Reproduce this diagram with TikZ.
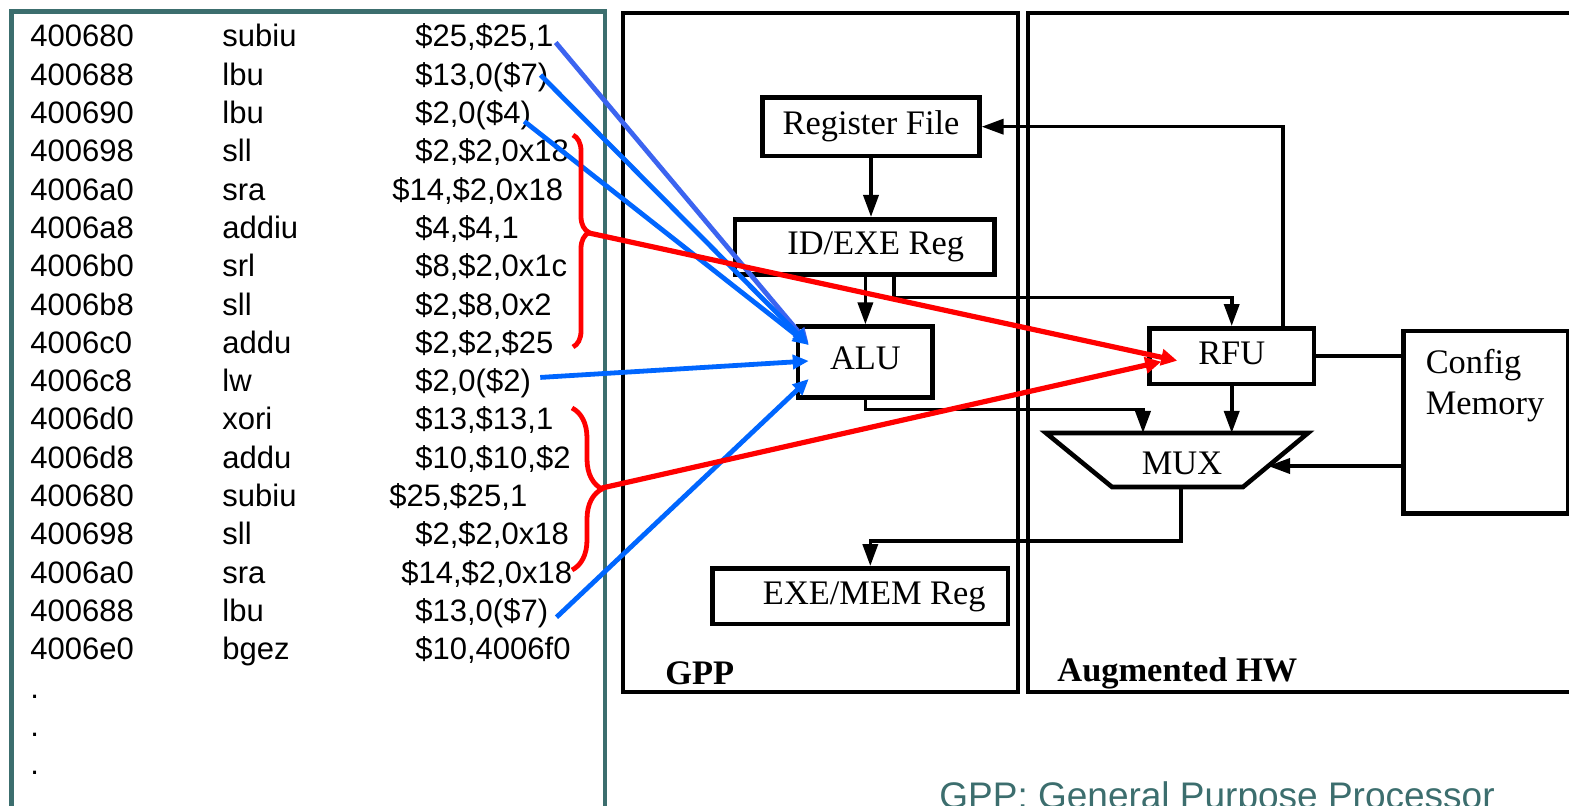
\documentclass[tikz,border=0pt]{standalone}
\usepackage{fontspec}
\setmainfont{Liberation Serif}
\newfontfamily\listfont{Liberation Sans}
\usetikzlibrary{arrows.meta,calc,positioning,decorations.pathreplacing}
\definecolor{listteal}{RGB}{60,110,110}
\definecolor{hopblue}{RGB}{0,102,255}
\definecolor{hopblueA}{RGB}{60,100,240}

\begin{document}
\begin{tikzpicture}[x=0.5pt, y=-0.5pt,
  lst/.style={font=\listfont\fontsize{15.5}{18}\selectfont, inner sep=0pt, anchor=base west},
  blk/.style={draw, line width=2.3pt, inner sep=0pt, font=\fontsize{17.2}{20.5}\selectfont,
              text height=11.7pt, text depth=3.8pt},
  lbl/.style={font=\fontsize{17.2}{20.5}\selectfont, inner sep=0pt},
  conn/.style={line width=1.8pt, -{Triangle[length=11pt,width=7.5pt]}},
  hop/.style={hopblue, line width=2.4pt, -{Triangle[length=8pt,width=7pt]}},
  fold/.style={red, line width=2.6pt, -{Triangle[length=8pt,width=8pt]}},
  brc/.style={red, line width=2.4pt, decorate}]
  \useasboundingbox (0,0) rectangle (1569,806);

  % instruction trace
  \draw[listteal, line width=2.4pt] (11.5,11.5) rectangle (605,830);
  \foreach \ad/\mn/\op/\ox [count=\i] in {
      400680/subiu/{\$25,\$25,1}/415,
      400688/lbu/{\$13,0(\$7)}/415,
      400690/lbu/{\$2,0(\$4)}/415,
      400698/sll/{\$2,\$2,0x18}/415,
      4006a0/sra/{\$14,\$2,0x18}/392,
      4006a8/addiu/{\$4,\$4,1}/415,
      4006b0/srl/{\$8,\$2,0x1c}/415,
      4006b8/sll/{\$2,\$8,0x2}/415,
      4006c0/addu/{\$2,\$2,\$25}/415,
      4006c8/lw/{\$2,0(\$2)}/415,
      4006d0/xori/{\$13,\$13,1}/415,
      4006d8/addu/{\$10,\$10,\$2}/415,
      400680/subiu/{\$25,\$25,1}/389,
      400698/sll/{\$2,\$2,0x18}/415,
      4006a0/sra/{\$14,\$2,0x18}/401,
      400688/lbu/{\$13,0(\$7)}/415,
      4006e0/bgez/{\$10,4006f0}/415}
  {
    \pgfmathsetmacro\yb{47+38.3*(\i-1)}
    \node[lst] (addr\i) at (30,\yb) {\ad};
    \node[lst] (mnem\i) at (222,\yb) {\mn};
    \node[lst] (opnd\i) at (\ox,\yb) {\op};
  }
  \foreach \i in {18,19,20} {
    \pgfmathsetmacro\yb{47+38.3*(\i-1)}
    \node[lst] (dot\i) at (30,\yb) {.};
  }

  % GPP and augmented hardware
  \draw[line width=2.3pt] (623,13) rectangle (1018,692);
  \draw[line width=2.3pt] (1028,13) rectangle (1590,692);
  \node[lbl, font=\fontsize{17.2}{20.5}\selectfont\bfseries, anchor=west] (gpplbl) at (665,673) {GPP};
  \node[lbl, font=\fontsize{17.2}{20.5}\selectfont\bfseries, anchor=west] (hwlbl) at (1057,673) {Augmented HW};

  \node[blk, minimum width=108.3pt, minimum height=29.35pt] (regfile) at (871,126.7) {Register File};
  \node[blk, minimum width=129.65pt, minimum height=27.5pt] (idexe) at (864.7,246.8) {\hspace*{11pt}ID/EXE Reg};
  \node[blk, minimum width=67.35pt, minimum height=35.3pt] (alu) at (865.4,362) {ALU};
  \node[blk, minimum width=147.75pt, minimum height=27.85pt] (exemem) at (860.3,596.2) {\hspace*{14pt}EXE/MEM Reg};
  \node[blk, minimum width=82.2pt, minimum height=27.85pt] (rfu) at (1231.7,356.2) {RFU};
  \node[blk, minimum width=82.15pt, minimum height=91.15pt] (config) at (1485.7,422.2) {};
  \node[lbl, align=left] (cfgtxt) at (1485,386) {Config\\Memory};

  % multiplexer
  \coordinate (muxTL) at (1046,433);
  \coordinate (muxTR) at (1308,433);
  \coordinate (muxBR) at (1243,487);
  \coordinate (muxBL) at (1112,487);
  \draw[line width=2.3pt] (muxTL) -- (muxTR) -- (muxBR) -- (muxBL) -- cycle;
  \node[lbl] (mux) at (1182,463) {MUX};
  \coordinate (muxInA) at (1143,433);
  \coordinate (muxInC) at (1268,466);
  \coordinate (muxOut) at (1181,487);

  % datapath
  \draw[conn] (regfile.south) -- (regfile.south |- idexe.north);
  \draw[conn] (alu.north |- idexe.south) -- (alu.north);
  \draw[conn] ([xshift=14.6pt]idexe.south) -- ++(0,21) -| (rfu.north);
  \draw[conn] ([xshift=25.5pt]rfu.north) |- (regfile.east);
  \draw[conn] (alu.south) -- ++(0,10) -| (muxInA);
  \draw[conn] (rfu.south) -- (rfu.south |- muxTL);
  \draw[conn] (config.west |- muxInC) -- (muxInC);
  \draw[line width=1.8pt] (rfu.east) -- (rfu.east -| config.west);
  \draw[conn] (muxOut) -- ++(0,54) -| ([xshift=5pt]exemem.north);

  % single instructions to the ALU
  \draw[hop, hopblueA] ([shift={(2,5)}]opnd1.east) -- ([shift={(13,-18)}]alu.west);
  \draw[hop] ([shift={(-8,-2)}]opnd2.east) -- ([shift={(13,-17)}]alu.west);
  \draw[hop] ([shift={(-7,6)}]opnd3.east) -- ([shift={(13,-17)}]alu.west);
  \draw[hop] ([shift={(9,-6)}]opnd10.east) -- ([shift={(13,-1)}]alu.west);
  \draw[hop] ([shift={(8,4)}]opnd16.east) -- ([shift={(13,17)}]alu.west);

  % instruction groups to the RFU
  \draw[brc, decoration={brace, amplitude=8pt, aspect=0.46}] (573,135) -- (573,347);
  \draw[brc, decoration={brace, amplitude=15pt, aspect=0.5}] (572,408) -- (572,570);
  \coordinate (grpA) at (589,233);
  \coordinate (grpB) at (602,488);
  \draw[fold] (grpA) -- ([shift={(30,4.5)}]rfu.west);
  \draw[fold] (grpB) -- ([shift={(14,5.5)}]rfu.west);

  \node[font=\listfont\fontsize{18.5}{22}\selectfont, text=listteal, anchor=base west, inner sep=0pt]
    (legend) at (939,808.6) {GPP: General Purpose Processor};
\end{tikzpicture}
\end{document}
